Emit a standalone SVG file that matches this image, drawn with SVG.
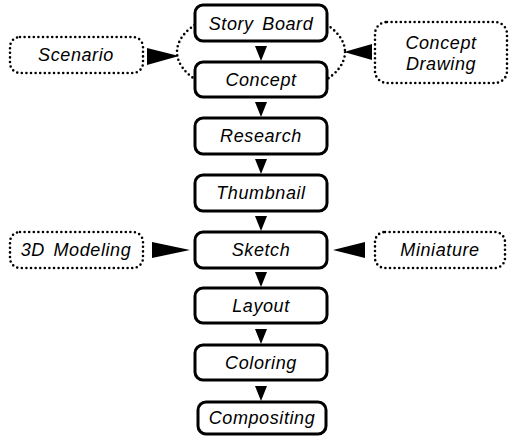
<svg xmlns="http://www.w3.org/2000/svg" width="511" height="439" viewBox="0 0 511 439">
<style>
.box{fill:#fff;stroke:#000;stroke-width:3}
.dot{fill:#fff;stroke:#000;stroke-width:2.6;stroke-dasharray:0 4.6;stroke-linecap:round}
.t{font-family:"Liberation Sans",Arial,sans-serif;font-style:italic;font-size:18px;letter-spacing:0.6px;word-spacing:3px;text-anchor:middle;fill:#000}
.arr{fill:#000;stroke:none}
</style>
<rect width="511" height="439" fill="#fff"/>
<g id="group-outline">
<ellipse cx="261" cy="52" rx="84" ry="44" fill="none" stroke="#000" stroke-width="2.6" stroke-dasharray="0 4.6" stroke-linecap="round"/>
</g>
<g id="connectors">
<polygon class="arr" points="255,46 267,46 261,61"/>
<polygon class="arr" points="255,102 267,102 261,117"/>
<polygon class="arr" points="255,159 267,159 261,174"/>
<polygon class="arr" points="255,216 267,216 261,231"/>
<polygon class="arr" points="255,272 267,272 261,287"/>
<polygon class="arr" points="255,329 267,329 261,344"/>
<polygon class="arr" points="255,386 267,386 261,401"/>
<polygon class="arr" points="147,48 147,65 179,56"/>
<polygon class="arr" points="372,44 372,60 344,52"/>
<polygon class="arr" points="152,242 152,258 190,250"/>
<polygon class="arr" points="365,242 365,258 333,250"/>
</g>
<g id="storyboard"><rect class="box" x="195" y="5" width="132" height="36" rx="8"/><text class="t" x="261" y="30">Story Board</text></g>
<g id="concept"><rect class="box" x="195" y="62" width="132" height="35" rx="8"/><text class="t" x="261" y="86">Concept</text></g>
<g id="research"><rect class="box" x="195" y="118" width="132" height="36" rx="8"/><text class="t" x="261" y="142">Research</text></g>
<g id="thumbnail"><rect class="box" x="195" y="175" width="132" height="36" rx="8"/><text class="t" x="261" y="199">Thumbnail</text></g>
<g id="sketch"><rect class="box" x="195" y="232" width="132" height="36" rx="8"/><text class="t" x="261" y="256">Sketch</text></g>
<g id="layout"><rect class="box" x="195" y="288" width="132" height="35" rx="8"/><text class="t" x="261" y="312">Layout</text></g>
<g id="coloring"><rect class="box" x="195" y="345" width="132" height="35" rx="8"/><text class="t" x="261" y="369">Coloring</text></g>
<g id="compositing"><rect class="box" x="198" y="402" width="128" height="32" rx="8"/><text class="t" x="262" y="424">Compositing</text></g>
<g id="scenario"><rect class="dot" x="10" y="37" width="133" height="36" rx="10"/><text class="t" x="76" y="61">Scenario</text></g>
<g id="conceptdrawing"><rect class="dot" x="375" y="22" width="132" height="61" rx="12"/><text class="t" x="441" y="49">Concept</text><text class="t" x="441" y="70">Drawing</text></g>
<g id="modeling3d"><rect class="dot" x="10" y="232" width="133" height="36" rx="10"/><text class="t" x="76" y="256">3D Modeling</text></g>
<g id="miniature"><rect class="dot" x="375" y="232" width="130" height="36" rx="10"/><text class="t" x="440" y="256">Miniature</text></g>
</svg>
